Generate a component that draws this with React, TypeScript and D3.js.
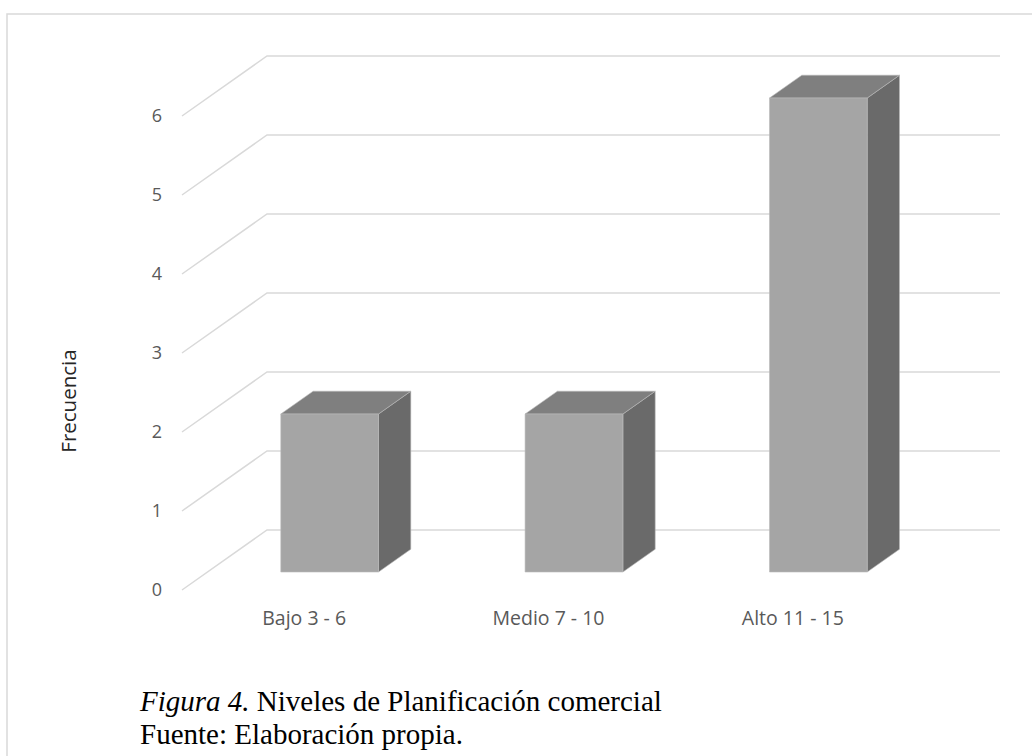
import React from "react";
import * as d3 from "d3";

// Chart data
const categories: string[] = ["Bajo 3 - 6", "Medio 7 - 10", "Alto 11 - 15"];
const frequencies: number[] = [2, 2, 6];
const yTicks: number[] = [0, 1, 2, 3, 4, 5, 6];
const yLabel = "Frecuencia";
const captionFigure = "Figura 4.";
const captionTitle = " Niveles de Planificación comercial";
const captionSource = "Fuente: Elaboración propia.";

const W = 1032;
const H = 756;

// Oblique 3D projection: depth z in [0,1] moves points right and up
const DEPTH_DX = 85;
const DEPTH_DY = 60;
const BAR_Z0 = 0.3;
const BAR_Z1 = 0.68;

const x = d3
  .scaleBand<string>()
  .domain(categories)
  .range([182, 915])
  .paddingInner(0.6)
  .paddingOuter(0.3);

const y = d3.scaleLinear().domain([0, 6]).range([590, 116]);

const proj = (px: number, v: number, z: number): [number, number] => [
  px + z * DEPTH_DX,
  y(v) - z * DEPTH_DY,
];

const poly = (pts: [number, number][]) =>
  pts.map((p) => `${p[0].toFixed(1)},${p[1].toFixed(1)}`).join(" ");

const SANS = "'Open Sans', 'DejaVu Sans', sans-serif";

export default function App() {
  const [x0, x1] = x.range();
  const backRight = x1 + DEPTH_DX;

  return (
    <svg
      width={W}
      height={H}
      style={{ position: "absolute", left: 0, top: 0, background: "#fff" }}
    >
      {/* outer frame */}
      <rect x={7} y={14} width={W + 20} height={H + 20} fill="#fff" stroke="#d9d9d9" strokeWidth={1.5} />

      {/* gridlines: left wall diagonals + back wall horizontals */}
      <g stroke="#d9d9d9" strokeWidth={1.5} fill="none">
        {yTicks.map((t) => {
          const a = proj(x0, t, 0);
          const b = proj(x0, t, 1);
          return <polyline key={t} points={poly([a, b, [backRight, b[1]]])} />;
        })}
      </g>

      {/* y tick labels */}
      <g fontFamily={SANS} fontSize={18} fill="#595959">
        {yTicks.map((t) => (
          <text key={t} x={157} y={y(t)} dy="0.35em" textAnchor="middle">
            {t}
          </text>
        ))}
      </g>

      {/* bars */}
      {categories.map((c, i) => {
        const v = frequencies[i];
        const bx0 = x(c)!;
        const bx1 = bx0 + x.bandwidth();
        const fTL = proj(bx0, v, BAR_Z0);
        const fTR = proj(bx1, v, BAR_Z0);
        const fBR = proj(bx1, 0, BAR_Z0);
        const fBL = proj(bx0, 0, BAR_Z0);
        const bTL = proj(bx0, v, BAR_Z1);
        const bTR = proj(bx1, v, BAR_Z1);
        const bBR = proj(bx1, 0, BAR_Z1);
        return (
          <g key={c} stroke="#b8b8b8" strokeWidth={0.6} strokeLinejoin="round">
            <polygon points={poly([fTR, bTR, bBR, fBR])} fill="#6a6a6a" />
            <polygon points={poly([fTL, bTL, bTR, fTR])} fill="#7f7f7f" />
            <polygon points={poly([fTL, fTR, fBR, fBL])} fill="#a5a5a5" />
          </g>
        );
      })}

      {/* category labels */}
      <g fontFamily={SANS} fontSize={19.5} fill="#595959">
        {categories.map((c) => (
          <text key={c} x={x(c)! + x.bandwidth() / 2} y={618} dy="0.35em" textAnchor="middle">
            {c}
          </text>
        ))}
      </g>

      {/* y axis title */}
      <text
        transform={`translate(69, ${(y(0) + y(6)) / 2 + 48}) rotate(-90)`}
        textAnchor="middle"
        dy="0.35em"
        fontFamily={SANS}
        fontSize={20.5}
        fill="#262626"
      >
        {yLabel}
      </text>

      {/* caption */}
      <g fontFamily="'Liberation Serif', 'Times New Roman', serif" fontSize={29} fill="#000">
        <text x={140} y={711}>
          <tspan fontStyle="italic">{captionFigure}</tspan>
          <tspan>{captionTitle}</tspan>
        </text>
        <text x={140} y={744}>{captionSource}</text>
      </g>
    </svg>
  );
}
